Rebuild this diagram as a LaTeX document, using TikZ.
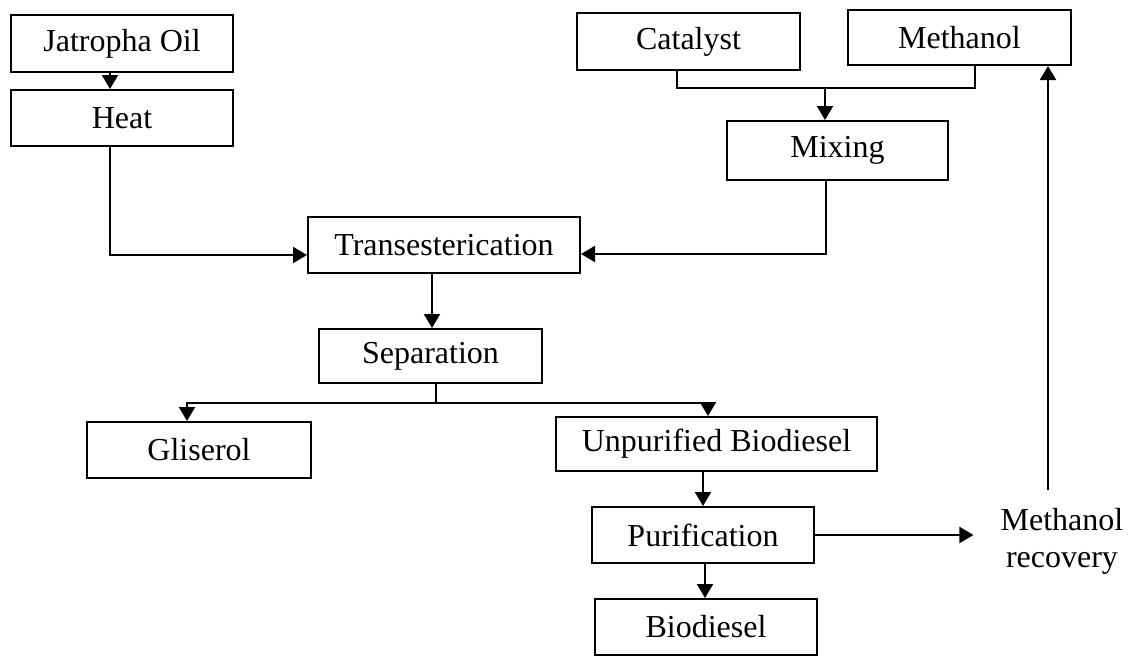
\documentclass[tikz,border=0pt]{standalone}
\usepackage{fontspec}
\setmainfont{Liberation Serif}
\usetikzlibrary{arrows.meta,calc}
\begin{document}
\begin{tikzpicture}[x=1pt,y=-1pt,
  box/.style={draw,line width=2pt,minimum height=56pt,inner sep=0pt,
    font=\fontsize{32}{37}\selectfont,anchor=center},
  conn/.style={line width=2pt},
  arr/.style={line width=2pt,-{Triangle[length=14pt,width=16pt]}},
  lbl/.style={font=\fontsize{32}{37}\selectfont,align=center,inner sep=0pt}]
\useasboundingbox (0,0) rectangle (1132,657);
\fill[white] (0,0) rectangle (1132,657);
% nodes
\node[box,minimum width=222pt,minimum height=57pt] (jat) at (122,43.5) {Jatropha Oil};
\node[box,minimum width=222pt] (heat) at (122,118) {Heat};
\node[box,minimum width=223pt,minimum height=57pt] (cat) at (688.5,41.5) {Catalyst};
\node[box,minimum width=223pt,minimum height=55pt] (meth) at (959.5,37.5) {Methanol};
\node[box,minimum width=221pt,minimum height=59pt] (mix) at (837.5,150.5) {Mixing};
\node[box,minimum width=272pt] (trans) at (444,245) {Transesterication};
\node[box,minimum width=223pt,minimum height=54pt] (sep) at (430.5,356) {Separation};
\node[box,minimum width=224pt] (gli) at (199,450) {Gliserol};
\node[box,minimum width=321pt,minimum height=54pt] (unp) at (716.5,444) {Unpurified Biodiesel};
\node[box,minimum width=222pt] (pur) at (703,535) {Purification};
\node[box,minimum width=222pt] (bio) at (706,627) {Biodiesel};
\node[lbl,anchor=north] (rec) at (1062,508) {Methanol\\recovery};
\coordinate (j) at (825,88);
\coordinate (s) at (436,403);
% connectors
\draw[arr] ([xshift=-12pt]jat.south) -- ([xshift=-12pt]heat.north);
\draw[arr] ([xshift=-12pt]heat.south) |- ([yshift=-10pt]trans.west);
\draw[arr] ([xshift=-11.5pt]mix.south) |- ([yshift=-9pt]trans.east);
\draw[conn] ([xshift=-11.5pt]cat.south) |- (j);
\draw[conn] ([xshift=15.5pt]meth.south) |- (j);
\draw[arr] (j) -- (j |- mix.north);
\draw[arr] ([xshift=-12pt]trans.south) -- ([xshift=-12pt]trans.south |- sep.north);
\draw[conn] (sep.south -| s) -- (s);
\draw[arr] (s) -| ([xshift=-12pt]gli.north);
\draw[arr] (s) -| ([xshift=-8.5pt]unp.north);
\draw[arr] (unp.south -| pur.north) -- (pur.north);
\draw[arr] ([xshift=2pt]pur.south) -- ([xshift=2pt]pur.south |- bio.north);
\draw[arr,shorten >=27pt] (pur.east) -- (pur.east -| rec.west);
\draw[arr,shorten <=18pt] ([xshift=-14pt]rec.north) -- ([xshift=-14pt]rec.north |- meth.south);
\end{tikzpicture}
\end{document}
